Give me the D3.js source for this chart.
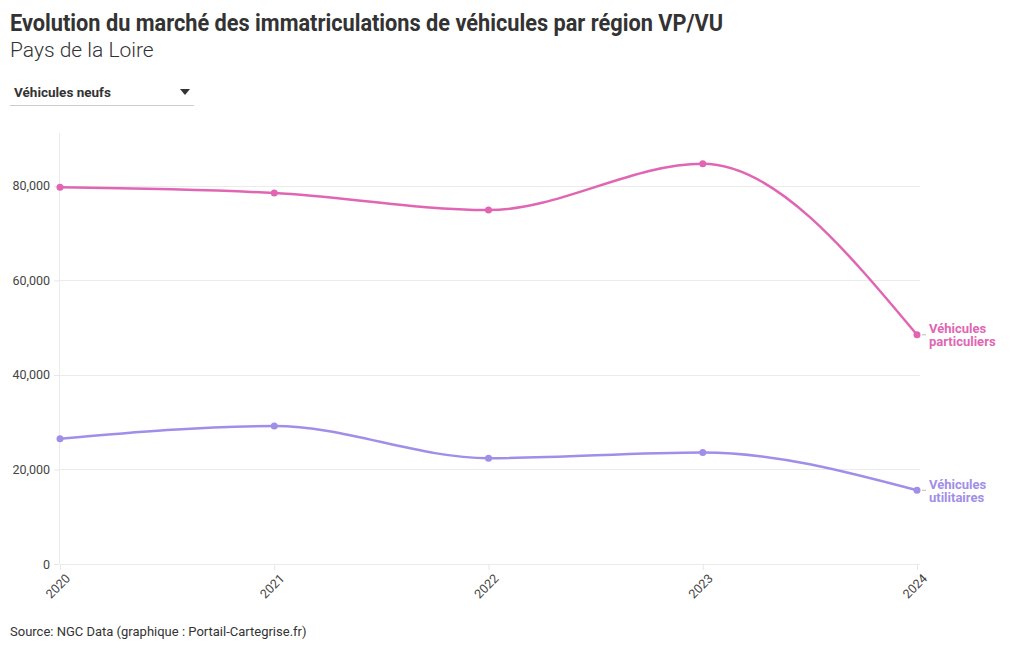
<!DOCTYPE html>
<html><head><meta charset="utf-8">
<script src="https://cdn.jsdelivr.net/npm/d3@7"></script>
<style>
body{margin:0;background:#fff;}
svg{display:block;font-family:"Roboto",sans-serif;}
</style></head>
<body>
<svg id="c" width="1020" height="650"></svg>
<script>
const years = [2020, 2021, 2022, 2023, 2024];
const vpValues = [79700, 78500, 74900, 84700, 48500];
const vuValues = [26500, 29200, 22400, 23600, 15600];
const seriesNames = [["Véhicules", "particuliers"], ["Véhicules", "utilitaires"]];
const seriesColors = ["#e066b3", "#a18ee8"];
const yTicks = [0, 20000, 40000, 60000, 80000];

const svg = d3.select("#c");
const font = '"Roboto",sans-serif';

svg.append("text").attr("x", 10).attr("y", 31)
  .attr("font-size", 24).attr("font-weight", 700).attr("fill", "#333")
  .attr("textLength", 713).attr("lengthAdjust", "spacingAndGlyphs")
  .text("Evolution du marché des immatriculations de véhicules par région VP/VU");
svg.append("text").attr("x", 10).attr("y", 57)
  .attr("font-size", 21).attr("font-weight", 300).attr("fill", "#333")
  .text("Pays de la Loire");

// dropdown
svg.append("text").attr("x", 14).attr("y", 97)
  .attr("font-size", 13.5).attr("font-weight", 700).attr("fill", "#333")
  .text("Véhicules neufs");
svg.append("path").attr("d", "M180,89 L190,89 L185,95 Z").attr("fill", "#333");
svg.append("line").attr("x1", 10).attr("x2", 194).attr("y1", 105.5).attr("y2", 105.5)
  .attr("stroke", "#ccc").attr("stroke-width", 1);

const x = d3.scalePoint().domain(years).range([60, 917]);
const y = d3.scaleLinear().domain([0, 91200]).range([564, 133]);

const g = svg.append("g");
// gridlines
g.selectAll(".grid").data(yTicks).join("line")
  .attr("x1", 60).attr("x2", 920)
  .attr("y1", d => Math.round(y(d)) + 0.5).attr("y2", d => Math.round(y(d)) + 0.5)
  .attr("stroke", "#ebebeb");
g.append("line").attr("x1", 59.5).attr("x2", 59.5).attr("y1", 133).attr("y2", 564)
  .attr("stroke", "#ebebeb");

// y axis
const yAxis = d3.axisLeft(y).tickValues(yTicks).tickFormat(d3.format(",")).tickSize(5).tickPadding(4);
const ya = g.append("g").attr("transform", "translate(59,0)").call(yAxis);
ya.select(".domain").remove();
ya.selectAll("line").attr("stroke", "#e6e6e6");
ya.selectAll("text").attr("font-size", 12.5).attr("fill", "#444").attr("font-family", font);

// x axis
const xAxis = d3.axisBottom(x).tickSize(6).tickPadding(3);
const xa = g.append("g").attr("transform", "translate(0,564)").call(xAxis);
xa.select(".domain").remove();
xa.selectAll("line").attr("stroke", "#e6e6e6");
xa.selectAll("text").attr("font-size", 12.5).attr("fill", "#444").attr("font-family", font)
  .attr("text-anchor", "end").attr("dy", null)
  .attr("transform", "translate(4,9) rotate(-45)");

const series = [vpValues, vuValues];
const line = d3.line().x((d, i) => x(years[i])).y(d => y(d)).curve(d3.curveMonotoneX);

series.forEach((vals, si) => {
  g.append("path").attr("d", line(vals)).attr("fill", "none")
    .attr("stroke", seriesColors[si]).attr("stroke-width", 2.5);
  g.selectAll(".pt" + si).data(vals).join("circle")
    .attr("cx", (d, i) => x(years[i])).attr("cy", d => y(d)).attr("r", 3.5)
    .attr("fill", seriesColors[si]);
  const last = vals[vals.length - 1];
  g.append("line").attr("x1", 922).attr("x2", 926)
    .attr("y1", y(last)).attr("y2", y(last)).attr("stroke", "#bbb");
  g.append("text").attr("x", 929).attr("y", y(last) - 1.5)
    .attr("font-size", 13).attr("font-weight", 700).attr("fill", seriesColors[si])
    .text(seriesNames[si][0]);
  g.append("text").attr("x", 929).attr("y", y(last) + 11.5)
    .attr("font-size", 13).attr("font-weight", 700).attr("fill", seriesColors[si])
    .text(seriesNames[si][1]);
});

svg.append("text").attr("x", 10).attr("y", 636)
  .attr("font-size", 13).attr("fill", "#333")
  .text("Source: NGC Data (graphique : Portail-Cartegrise.fr)");
</script>
</body></html>
